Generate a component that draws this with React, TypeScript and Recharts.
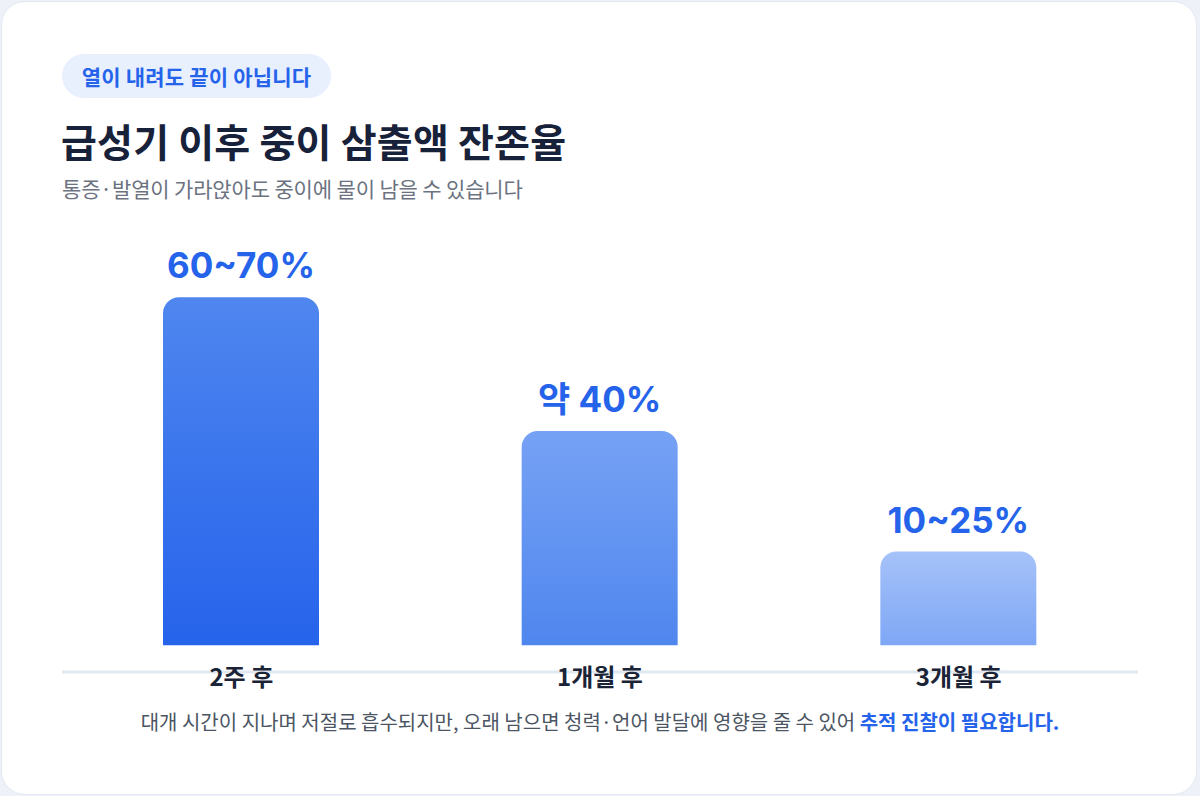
import { BarChart, Bar, XAxis, YAxis, Cell, LabelList } from 'recharts';

const categories = ['2주 후', '1개월 후', '3개월 후'];
const residual = [65, 40, 17.5];
const valueLabels = ['60~70%', '약 40%', '10~25%'];

const chartData = categories.map((name, i) => ({ name, v: residual[i], label: valueLabels[i] }));

const gradients = [
  ['#4f86ef', '#2563eb'],
  ['#76a2f5', '#4f86ee'],
  ['#a6c2f9', '#7ea7f5'],
];

const FONT = "Inter, 'Noto Sans CJK KR', sans-serif";
const KR = "'Noto Sans CJK KR', Inter, sans-serif";

function AxisTick(props: any) {
  const { x, y, payload } = props;
  return (
    <text x={x} y={y} dy={6} textAnchor="middle" fill="#1a2436" fontSize={24} fontWeight={700} fontFamily={KR}>
      {payload.value}
    </text>
  );
}

function TopLabel(props: any) {
  const { x, y, width, value } = props;
  return (
    <text x={x + width / 2} y={y - 19} textAnchor="middle" fill="#2563eb" fontSize={35} fontWeight={700} fontFamily={FONT}>
      {value}
    </text>
  );
}

export default function App() {
  return (
    <div style={{ position: 'fixed', left: 0, top: 0, width: 1200, height: 796, background: '#eef2f8', fontFamily: KR }}>
      <div style={{ position: 'absolute', left: 1, top: 1, width: 1194, height: 792, background: '#fff', border: '1px solid #e3e9f2', borderRadius: 24 }} />

      <div style={{ position: 'absolute', left: 62, top: 54, width: 269, height: 44, borderRadius: 22, background: '#e8f0fe', color: '#2563eb', fontSize: 21, fontWeight: 700, display: 'flex', alignItems: 'center', justifyContent: 'center', letterSpacing: 0.2 }}>
        열이 내려도 끝이 아닙니다
      </div>

      <div style={{ position: 'absolute', left: 61, top: 112, fontSize: 39, fontWeight: 700, color: '#18213a', letterSpacing: 0.2, lineHeight: '56px', whiteSpace: 'nowrap' }}>
        급성기 이후 중이 삼출액 잔존율
      </div>

      <div style={{ position: 'absolute', left: 62, top: 174, fontSize: 21, color: '#6b7280', letterSpacing: -0.15, lineHeight: '28px', whiteSpace: 'nowrap' }}>
        통증·발열이 가라앉아도 중이에 물이 남을 수 있습니다
      </div>

      <div style={{ position: 'absolute', left: 0, top: 0 }}>
        <BarChart width={1200} height={740} data={chartData} margin={{ top: 217, right: 62, bottom: 28, left: 62 }}>
          <defs>
            {gradients.map((g, i) => (
              <linearGradient key={i} id={`bar-g${i}`} x1="0" y1="0" x2="0" y2="1">
                <stop offset="0%" stopColor={g[0]} />
                <stop offset="100%" stopColor={g[1]} />
              </linearGradient>
            ))}
          </defs>
          <XAxis
            dataKey="name"
            axisLine={{ stroke: '#e2e8f0', strokeWidth: 3 }}
            tickLine={false}
            tick={<AxisTick />}
            height={40}
            interval={0}
          />
          <YAxis hide domain={[-5, 80]} allowDataOverflow />
          <Bar dataKey="v" barSize={156} radius={[16, 16, 0, 0]} isAnimationActive={false}>
            {chartData.map((_, i) => (
              <Cell key={i} fill={`url(#bar-g${i})`} />
            ))}
            <LabelList dataKey="label" content={<TopLabel />} />
          </Bar>
        </BarChart>
      </div>

      <div style={{ position: 'absolute', left: 0, width: 1200, top: 708, textAlign: 'center', fontSize: 20, color: '#4b5563', letterSpacing: 0, lineHeight: '28px', whiteSpace: 'nowrap' }}>
        대개 시간이 지나며 저절로 흡수되지만, 오래 남으면 청력·언어 발달에 영향을 줄 수 있어{' '}
        <span style={{ color: '#2563eb', fontWeight: 700 }}>추적 진찰이 필요합니다.</span>
      </div>
    </div>
  );
}
